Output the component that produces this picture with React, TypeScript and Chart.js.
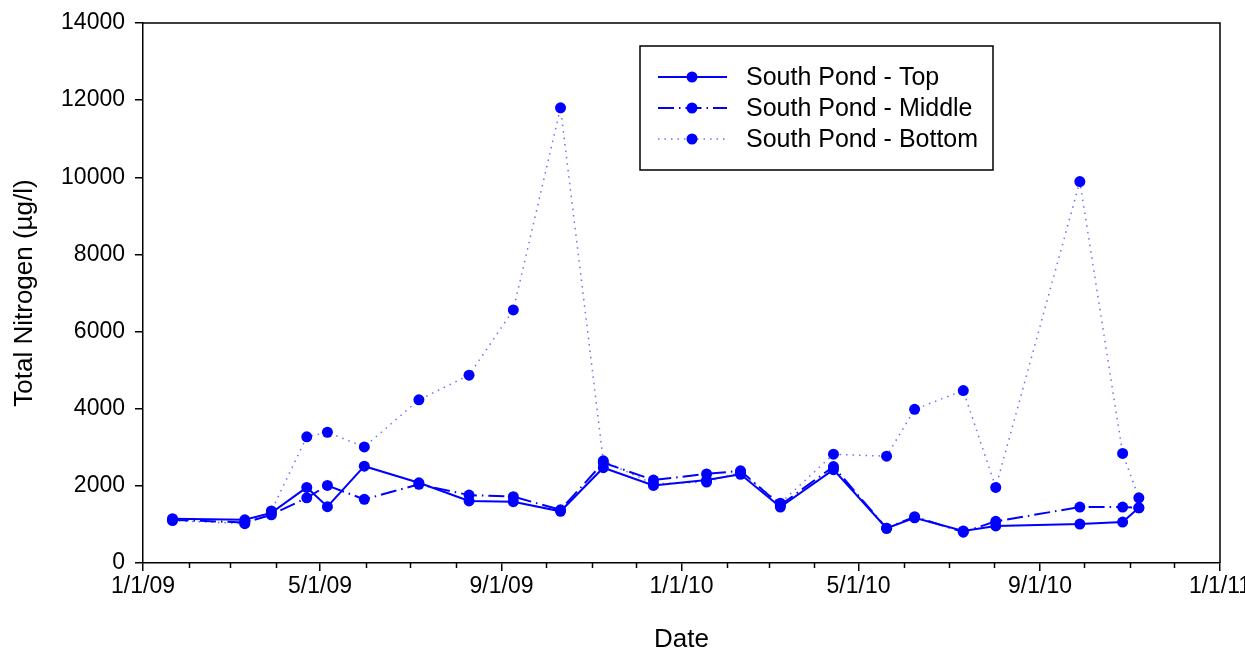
import React, { useEffect, useRef } from "react";
import { Chart, registerables } from "chart.js";

Chart.register(...registerables);

// ---- Data ----
const sampleDates = [
  "2009-01-21", "2009-03-11", "2009-03-29", "2009-04-22", "2009-05-06", "2009-05-31",
  "2009-07-07", "2009-08-10", "2009-09-09", "2009-10-11", "2009-11-09", "2009-12-13",
  "2010-01-18", "2010-02-10", "2010-03-09", "2010-04-14", "2010-05-20", "2010-06-08",
  "2010-07-11", "2010-08-02", "2010-09-28", "2010-10-27", "2010-11-07",
];
const topValues = [1150, 1120, 1300, 1960, 1460, 2510, 2080, 1610, 1590, 1340, 2470, 2010, 2150, 2300, 1450, 2420, 900, 1170, 830, 960, 1010, 1060, 1430];
const middleValues = [1120, 1050, 1250, 1690, 2010, 1650, 2040, 1760, 1720, 1380, 2600, 2150, 2310, 2390, 1500, 2500, 900, 1200, 800, 1080, 1450, 1450, 1430];
const bottomValues = [1100, 1020, 1350, 3270, 3390, 3010, 4230, 4870, 6560, 11800, 2650, 2050, 2100, 2350, 1550, 2820, 2770, 3985, 4470, 1960, 9890, 2840, 1690];

const seriesNames = ["South Pond - Top", "South Pond - Middle", "South Pond - Bottom"];

const axisStart = "2009-01-01";
const axisEnd = "2011-01-01";
const majorTickDates = ["2009-01-01", "2009-05-01", "2009-09-01", "2010-01-01", "2010-05-01", "2010-09-01", "2011-01-01"];
const majorTickLabels = ["1/1/09", "5/1/09", "9/1/09", "1/1/10", "5/1/10", "9/1/10", "1/1/11"];
const minorTickDates = [
  "2009-02-01", "2009-03-01", "2009-04-01", "2009-06-01", "2009-07-01", "2009-08-01",
  "2009-10-01", "2009-11-01", "2009-12-01", "2010-02-01", "2010-03-01", "2010-04-01",
  "2010-06-01", "2010-07-01", "2010-08-01", "2010-10-01", "2010-11-01", "2010-12-01",
];

const yMin = 0;
const yMax = 14000;
const yStep = 2000;

const FONT = "'Liberation Sans', Arial, sans-serif";
const BLUE = "#0000FF";

const dayOf = (s: string) => (Date.parse(s) - Date.parse(axisStart)) / 86400000;

const toPoints = (vals: number[]) => vals.map((v, i) => ({ x: dayOf(sampleDates[i]), y: v }));

const minorTickPlugin = {
  id: "minorTicks",
  afterDraw(chart: any) {
    const ctx = chart.ctx;
    const xs = chart.scales.x;
    const bottom = chart.chartArea.bottom;
    ctx.save();
    ctx.strokeStyle = "#000";
    ctx.lineWidth = 1.5;
    minorTickDates.forEach((d) => {
      const px = Math.round(xs.getPixelForValue(dayOf(d))) + 0.5;
      ctx.beginPath();
      ctx.moveTo(px, bottom);
      ctx.lineTo(px, bottom + 5);
      ctx.stroke();
    });
    ctx.restore();
  },
};

const framePlugin = {
  id: "frame",
  afterDraw(chart: any) {
    const { left, right, top, bottom } = chart.chartArea;
    const ctx = chart.ctx;
    ctx.save();
    ctx.strokeStyle = "#000";
    ctx.lineWidth = 1.5;
    ctx.beginPath();
    ctx.moveTo(left, top);
    ctx.lineTo(right, top);
    ctx.lineTo(right, bottom);
    ctx.stroke();
    ctx.restore();
  },
};

const legendPlugin = {
  id: "boxLegend",
  afterDraw(chart: any) {
    const ctx = chart.ctx;
    const bx = 640, by = 46, bw = 353, bh = 124;
    ctx.save();
    ctx.fillStyle = "#fff";
    ctx.fillRect(bx, by, bw, bh);
    ctx.strokeStyle = "#000";
    ctx.lineWidth = 1.5;
    ctx.strokeRect(bx, by, bw, bh);
    chart.data.datasets.forEach((ds: any, i: number) => {
      const y = 77 + i * 31;
      ctx.save();
      ctx.strokeStyle = ds.borderColor;
      ctx.lineWidth = ds.borderWidth;
      ctx.setLineDash(ds.borderDash || []);
      ctx.beginPath();
      ctx.moveTo(658, y);
      ctx.lineTo(727, y);
      ctx.stroke();
      ctx.restore();
      ctx.fillStyle = BLUE;
      ctx.beginPath();
      ctx.arc(692, y, 5.5, 0, Math.PI * 2);
      ctx.fill();
      ctx.fillStyle = "#000";
      ctx.font = `25px ${FONT}`;
      ctx.textBaseline = "middle";
      ctx.textAlign = "left";
      ctx.fillText(ds.label, 746, y + 1);
    });
    ctx.restore();
  },
};

export default function App() {
  const canvasRef = useRef<HTMLCanvasElement | null>(null);

  useEffect(() => {
    const canvas = canvasRef.current;
    if (!canvas) return;
    const common = {
      pointRadius: 5.5,
      pointHoverRadius: 5.5,
      pointBackgroundColor: BLUE,
      pointBorderColor: BLUE,
      pointBorderWidth: 0,
      fill: false,
      tension: 0,
    };
    const chart = new Chart(canvas, {
      type: "line",
      data: {
        datasets: [
          { ...common, label: seriesNames[0], data: toPoints(topValues), borderColor: BLUE, borderWidth: 2, borderDash: [] },
          { ...common, label: seriesNames[1], data: toPoints(middleValues), borderColor: BLUE, borderWidth: 2, borderDash: [16, 5, 1.5, 5] },
          { ...common, label: seriesNames[2], data: toPoints(bottomValues), borderColor: "rgba(60,60,255,0.75)", borderWidth: 1.5, borderDash: [1.5, 5] },
        ],
      },
      options: {
        responsive: false,
        animation: false,
        devicePixelRatio: 1,
        layout: { padding: { left: 0, top: 23, right: 25, bottom: 0 } },
        plugins: { legend: { display: false }, tooltip: { enabled: false } },
        scales: {
          x: {
            type: "linear",
            min: dayOf(axisStart),
            max: dayOf(axisEnd),
            afterBuildTicks: (scale: any) => {
              scale.ticks = majorTickDates.map((d) => ({ value: dayOf(d) }));
            },
            afterFit: (scale: any) => {
              scale.height = 90;
              scale.paddingLeft = 0;
              scale.paddingRight = 0;
            },
            ticks: {
              autoSkip: false,
              maxRotation: 0,
              padding: 2,
              color: "#000",
              font: { family: FONT, size: 23 },
              callback: (v: any) => {
                const idx = majorTickDates.findIndex((d) => dayOf(d) === v);
                return idx >= 0 ? majorTickLabels[idx] : "";
              },
            },
            grid: { drawOnChartArea: false, drawTicks: true, tickLength: 8, color: "#000", lineWidth: 1.5 },
            border: { display: true, color: "#000", width: 1.5 },
            title: { display: true, text: "Date", color: "#000", font: { family: FONT, size: 26, lineHeight: 1 }, padding: { top: 0, bottom: 0 } },
          },
          y: {
            type: "linear",
            min: yMin,
            max: yMax,
            afterFit: (scale: any) => {
              scale.width = 143;
              scale.paddingTop = 0;
              scale.paddingBottom = 0;
            },
            ticks: {
              stepSize: yStep,
              padding: 10,
              color: "#000",
              font: { family: FONT, size: 23 },
              callback: (v: any) => String(v),
            },
            grid: { drawOnChartArea: false, drawTicks: true, tickLength: 8, color: "#000", lineWidth: 1.5 },
            border: { display: true, color: "#000", width: 1.5 },
            title: { display: true, text: "Total Nitrogen (µg/l)", color: "#000", font: { family: FONT, size: 26, lineHeight: 1 }, padding: { top: 12, bottom: 0 } },
          },
        },
      },
      plugins: [minorTickPlugin, framePlugin, legendPlugin],
    } as any);
    return () => chart.destroy();
  }, []);

  return (
    <div style={{ position: "fixed", left: 0, top: 0, width: 1245, height: 653, background: "#fff" }}>
      <canvas ref={canvasRef} width={1245} height={653} style={{ width: 1245, height: 653, display: "block" }} />
    </div>
  );
}
